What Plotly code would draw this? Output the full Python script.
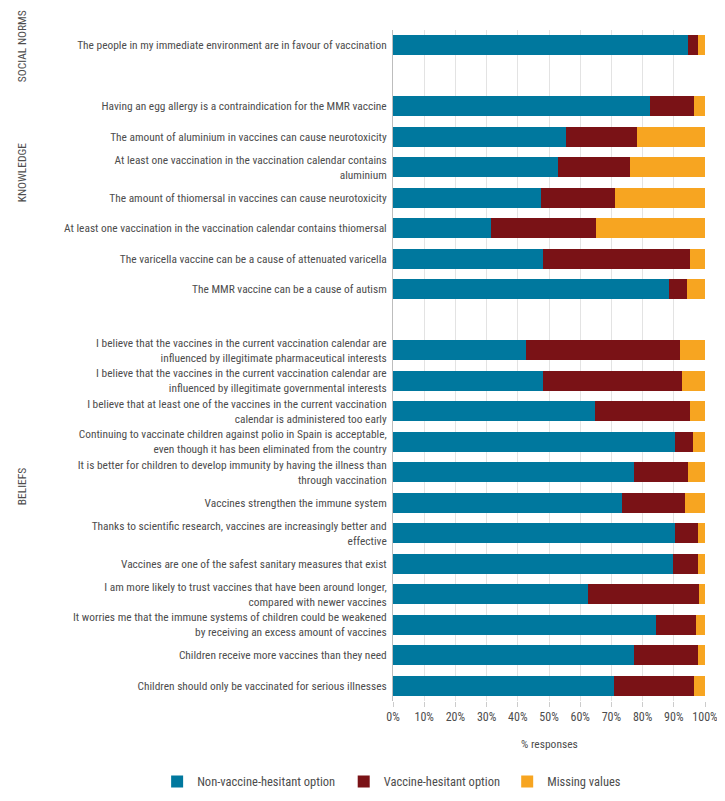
import plotly.graph_objects as go

# ---------------- data ----------------
categories = [
    "The people in my immediate environment are in favour of vaccination",
    " ",
    "Having an egg allergy is a contraindication for the MMR vaccine",
    "The amount of aluminium in vaccines can cause neurotoxicity",
    "At least one vaccination in the vaccination calendar contains<br>aluminium",
    "The amount of thiomersal in vaccines can cause neurotoxicity",
    "At least one vaccination in the vaccination calendar contains thiomersal",
    "The varicella vaccine can be a cause of attenuated varicella",
    "The MMR vaccine can be a cause of autism",
    "  ",
    "I believe that the vaccines in the current vaccination calendar are<br>influenced by illegitimate pharmaceutical interests",
    "I believe that the vaccines in the current vaccination calendar are<br>influenced by illegitimate governmental interests",
    "I believe that at least one of the vaccines in the current vaccination<br>calendar is administered too early",
    "Continuing to vaccinate children against polio in Spain is acceptable,<br>even though it has been eliminated from the country",
    "It is better for children to develop immunity by having the illness than<br>through vaccination",
    "Vaccines strengthen the immune system",
    "Thanks to scientific research, vaccines are increasingly better and<br>effective",
    "Vaccines are one of the safest sanitary measures that exist",
    "I am more likely to trust vaccines that have been around longer,<br>compared with newer vaccines",
    "It worries me that the immune systems of children could be weakened<br>by receiving an excess amount of vaccines",
    "Children receive more vaccines than they need",
    "Children should only be vaccinated for serious illnesses",
]

non_hesitant = [94.7, None, 82.4, 55.4, 52.8, 47.4, 31.4, 48.0, 88.6, None,
                42.7, 48.0, 64.7, 90.3, 77.1, 73.3, 90.3, 89.6, 62.5, 84.2, 77.4, 70.9]
hesitant = [3.2, None, 14.0, 22.9, 23.0, 23.8, 33.6, 47.3, 5.6, None,
            49.4, 44.7, 30.6, 5.8, 17.6, 20.3, 7.6, 8.3, 35.7, 12.9, 20.5, 25.5]
missing = [2.1, None, 3.6, 21.7, 24.2, 28.8, 35.0, 4.7, 5.8, None,
           7.9, 7.3, 4.7, 3.9, 5.3, 6.4, 2.1, 2.1, 1.8, 2.9, 2.1, 3.6]

series_names = ["Non-vaccine-hesitant option", "Vaccine-hesitant option", "Missing values"]
series_colors = ["#00789E", "#7A1216", "#F7A521"]
legend_ids = ["legend", "legend2", "legend3"]
legend_x = [-0.756, -0.158, 0.366]

group_labels = ["SOCIAL NORMS", "KNOWLEDGE", "BELIEFS"]
group_label_y = [0.976, 0.788, 0.320]

x_ticks = list(range(0, 101, 10))

FONT = "Liberation Sans Narrow, Roboto Condensed, DejaVu Sans Condensed, sans-serif"
TEXT_COLOR = "#4d4d4d"

fig = go.Figure()
for name, vals, col, lg in zip(series_names, [non_hesitant, hesitant, missing],
                               series_colors, legend_ids):
    fig.add_trace(go.Bar(
        y=categories, x=vals, name=name, orientation="h",
        marker=dict(color=col, line=dict(width=0)),
        hoverinfo="x+name", legend=lg,
    ))

legend_common = dict(orientation="h", y=-0.1207, yanchor="middle", xanchor="left",
                     bgcolor="rgba(0,0,0,0)", borderwidth=0,
                     font=dict(size=12.5, color=TEXT_COLOR, family=FONT))

# the page body adds an 8px offset; margins compensate for it
fig.update_layout(
    barmode="stack",
    bargap=0.34,
    width=725, height=801,
    margin=dict(l=385, r=28, t=22, b=108),
    plot_bgcolor="white", paper_bgcolor="white",
    font=dict(family=FONT, size=11.4, color=TEXT_COLOR),
    showlegend=True,
    legend=dict(x=legend_x[0], **legend_common),
    legend2=dict(x=legend_x[1], **legend_common),
    legend3=dict(x=legend_x[2], **legend_common),
    xaxis=dict(
        range=[0, 100], tickvals=x_ticks, ticktext=[f"{v}%" for v in x_ticks],
        showgrid=True, gridcolor="#e3e3e3", gridwidth=1,
        ticks="outside", ticklen=5, tickcolor="#cccccc",
        zeroline=False, showline=False, automargin=False,
        tickfont=dict(size=12, color=TEXT_COLOR),
        fixedrange=True,
    ),
    yaxis=dict(
        categoryorder="array", categoryarray=categories,
        autorange="reversed", automargin=False,
        showline=True, linecolor="#bdbdbd", linewidth=1,
        showgrid=False, ticks="", ticklabelstandoff=3,
        tickfont=dict(size=11.4, color=TEXT_COLOR),
        fixedrange=True,
    ),
)

fig.add_annotation(
    text="% responses", xref="paper", yref="paper", x=0.5, y=-0.064,
    xanchor="center", yanchor="middle", showarrow=False,
    font=dict(size=11.5, color=TEXT_COLOR),
)

for lbl, yy in zip(group_labels, group_label_y):
    fig.add_annotation(
        text=lbl, xref="paper", yref="paper", x=-1.189, y=yy,
        xanchor="center", yanchor="middle", showarrow=False, textangle=-90,
        font=dict(size=11.5, color=TEXT_COLOR),
    )

fig.write_html("out.html")
